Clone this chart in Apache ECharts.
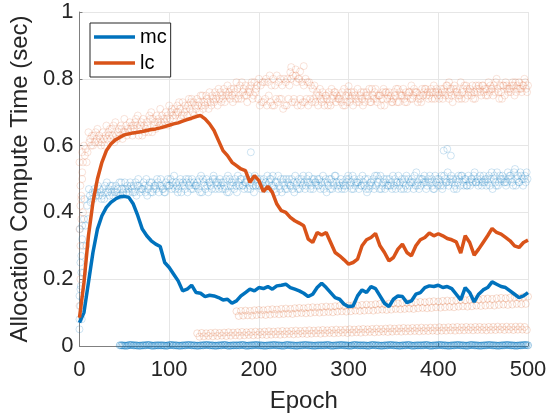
<!DOCTYPE html>
<html><head><meta charset="utf-8">
<script src="https://cdn.jsdelivr.net/npm/echarts@6/dist/echarts.min.js"></script>
<style>html,body{margin:0;padding:0;background:#fff}#c{width:555px;height:419px}</style>
</head><body><div id="c"></div>
<script>
// epochs sampled every 5
const epochs = [0,5,10,15,20,25,30,35,40,45,50,55,60,65,70,75,80,85,90,95,100,105,110,115,120,125,130,135,140,145,150,155,160,165,170,175,180,185,190,195,200,205,210,215,220,225,230,235,240,245,250,255,260,265,270,275,280,285,290,295,300,305,310,315,320,325,330,335,340,345,350,355,360,365,370,375,380,385,390,395,400,405,410,415,420,425,430,435,440,445,450,455,460,465,470,475,480,485,490,495,500];
const xTicks = [0,100,200,300,400,500];
const yTicks = [0,0.2,0.4,0.6,0.8,1];

// smoothed lines
const mcLine = [0.07,0.10,0.19,0.28,0.35,0.39,0.415,0.43,0.44,0.447, 0.448,0.445,0.425,0.39,0.35,0.33,0.315,0.305,0.298,0.25, 0.235,0.215,0.195,0.165,0.17,0.182,0.16,0.158,0.148,0.152, 0.15,0.145,0.138,0.14,0.128,0.135,0.15,0.16,0.17,0.165, 0.175,0.172,0.178,0.17,0.18,0.182,0.185,0.175,0.17,0.165, 0.158,0.148,0.155,0.175,0.188,0.175,0.16,0.145,0.14,0.125, 0.118,0.12,0.15,0.168,0.16,0.178,0.172,0.15,0.128,0.118, 0.14,0.15,0.148,0.13,0.135,0.155,0.16,0.175,0.18,0.178, 0.182,0.175,0.178,0.172,0.155,0.138,0.175,0.16,0.132,0.155, 0.168,0.175,0.192,0.185,0.178,0.175,0.165,0.155,0.145,0.15, 0.16];
const lcLine = [0.085,0.19,0.33,0.43,0.50,0.55,0.585,0.605,0.617,0.625, 0.632,0.635,0.638,0.64,0.642,0.645,0.648,0.65,0.653,0.657, 0.661,0.665,0.668,0.673,0.678,0.682,0.687,0.69,0.68,0.665, 0.645,0.615,0.585,0.57,0.55,0.54,0.53,0.525,0.49,0.51, 0.495,0.462,0.478,0.46,0.425,0.405,0.40,0.385,0.375,0.368, 0.36,0.32,0.31,0.34,0.332,0.34,0.31,0.28,0.27,0.258, 0.245,0.25,0.26,0.30,0.318,0.325,0.337,0.30,0.28,0.255, 0.265,0.29,0.305,0.28,0.27,0.30,0.318,0.325,0.338,0.33, 0.336,0.33,0.322,0.318,0.312,0.278,0.33,0.31,0.272,0.29, 0.31,0.33,0.352,0.34,0.335,0.325,0.315,0.30,0.295,0.31, 0.317];

// lc raw samples (upper cloud), five strands
const lcCloud1 = [.55,.60,.64,.60,.65,.61,.66,.62,.67,.63, .68,.64,.66,.69,.63,.67,.70,.65,.71,.67, .72,.68,.70,.73,.69,.74,.71,.75,.72,.76, .73,.77,.74,.78,.75,.79,.74,.78,.76,.79, .80,.73,.79,.72,.81,.74,.79,.82,.73,.80, .78,.72,.77,.76,.73,.75,.72,.76,.74,.77, .75,.72,.77,.74,.76,.73,.77,.75,.72,.76, .74,.77,.75,.73,.78,.76,.74,.77,.75,.78, .76,.74,.78,.75,.77,.79,.74,.77,.76,.78, .78,.75,.77,.80,.76,.79,.77,.75,.79,.78, .78];
const lcCloud2 = [.48,.57,.61,.63,.61,.64,.62,.65,.63,.66, .64,.67,.65,.63,.68,.66,.64,.69,.67,.70, .68,.71,.73,.69,.72,.70,.74,.72,.75,.73, .76,.74,.77,.75,.73,.77,.79,.75,.78,.76, .72,.79,.75,.80,.73,.78,.72,.80,.81,.74, .73,.79,.74,.72,.76,.74,.77,.73,.75,.72, .73,.76,.74,.72,.75,.77,.74,.72,.76,.74, .76,.73,.77,.75,.74,.76,.73,.77,.76,.74, .74,.77,.75,.73,.76,.74,.78,.76,.74,.77, .76,.79,.75,.77,.74,.78,.76,.79,.77,.80, .76];
const lcCloud3 = [.44,.59,.62,.61,.63,.62,.64,.63,.62,.65, .66,.65,.67,.65,.66,.64,.68,.67,.69,.68, .70,.69,.71,.70,.74,.73,.72,.75,.74,.72, .74,.76,.73,.76,.77,.74,.76,.73,.79,.77, .78,.74,.81,.72,.79,.71,.80,.73,.79,.72, .80,.74,.78,.75,.74,.72,.74,.75,.73,.75, .74,.75,.73,.76,.74,.75,.73,.74,.76,.75, .75,.76,.74,.76,.75,.73,.77,.75,.77,.76, .75,.76,.74,.77,.75,.76,.77,.75,.78,.76, .77,.76,.78,.76,.78,.77,.78,.76,.77,.79, .77];
const lcCloud4 = [.52,.55,.60,.64,.62,.60,.63,.66,.64,.62, .63,.66,.68,.66,.64,.69,.66,.68,.66,.69, .71,.70,.68,.72,.71,.69,.73,.71,.73,.75, .75,.73,.76,.74,.76,.75,.77,.76,.74,.78, .73,.80,.73,.78,.74,.80,.74,.81,.72,.79, .74,.78,.73,.77,.72,.76,.75,.74,.76,.73, .76,.74,.75,.73,.77,.74,.75,.76,.74,.73, .77,.75,.73,.76,.77,.74,.75,.76,.74,.77, .77,.75,.76,.78,.74,.77,.75,.78,.77,.75, .75,.78,.76,.74,.78,.76,.79,.78,.76,.77, .79];
const lcCloud5 = [.40,.58,.63,.62,.60,.63,.65,.61,.65,.64, .65,.63,.66,.67,.65,.68,.67,.66,.68,.66, .69,.72,.69,.71,.73,.72,.70,.73,.71,.74, .72,.75,.75,.77,.74,.78,.75,.77,.75,.74, .79,.72,.78,.74,.80,.72,.78,.74,.80,.73, .79,.73,.75,.74,.75,.73,.76,.74,.72,.76, .75,.73,.76,.75,.73,.76,.75,.77,.75,.73, .73,.75,.76,.74,.76,.75,.76,.74,.76,.75, .76,.78,.77,.76,.75,.78,.76,.74,.76,.78, .77,.77,.79,.78,.75,.77,.78,.77,.78,.76, .80];
const lcExtra = [[0,0.12],[1,0.2],[1,0.3],[2,0.38],[2,0.45],[3,0.5],[1,0.42],[4,0.55],[0,0.35],[3,0.58],[236,0.835],[241,0.828],[246,0.822],[250,0.838],[300,0.778],[412,0.79]];
// lc lower bands
const lcBand1Start = 175;
const lcBand1Up = [0.104,0.105,0.106,0.105,0.107,0.108,0.107,0.109,0.110,0.109,0.111,0.112,0.111,0.113,0.114,0.113,0.115,0.116,0.115,0.117,0.118,0.117,0.119,0.120,0.119,0.121,0.122,0.121,0.123,0.124,0.123,0.125,0.126,0.125,0.127,0.128,0.127,0.129,0.130,0.129,0.131,0.132,0.131,0.133,0.134,0.133,0.135,0.136,0.135,0.137,0.138,0.137,0.139,0.140,0.139,0.141,0.142,0.141,0.143,0.144,0.143,0.145,0.146,0.145,0.147,0.148];
const lcBand1Lo = [0.090,0.091,0.092,0.091,0.093,0.094,0.093,0.094,0.096,0.095,0.096,0.097,0.096,0.098,0.099,0.098,0.099,0.101,0.100,0.101,0.102,0.101,0.103,0.104,0.103,0.104,0.106,0.105,0.106,0.107,0.106,0.108,0.109,0.108,0.109,0.111,0.110,0.111,0.112,0.111,0.113,0.114,0.113,0.114,0.116,0.115,0.116,0.117,0.116,0.118,0.119,0.118,0.119,0.121,0.120,0.121,0.122,0.121,0.123,0.124,0.123,0.124,0.126,0.125,0.126,0.128];
const lcBand2Start = 130;
const lcBand2Up = [0.038,0.039,0.038,0.039,0.040,0.039,0.040,0.041,0.040,0.041,0.042,0.041,0.042,0.043,0.042,0.043,0.044,0.043,0.044,0.045,0.044,0.045,0.046,0.045,0.046,0.047,0.046,0.047,0.048,0.047,0.048,0.049,0.048,0.049,0.050,0.049,0.050,0.051,0.050,0.051,0.052,0.051,0.052,0.053,0.052,0.053,0.054,0.053,0.054,0.054,0.055,0.054,0.055,0.055,0.056,0.055,0.056,0.056,0.057,0.056,0.057,0.056,0.057,0.057,0.056,0.057,0.057,0.058,0.057,0.058,0.057,0.058,0.058,0.057,0.058];
const lcBand2Lo = [0.028,0.029,0.030,0.029,0.030,0.031,0.030,0.031,0.032,0.031,0.032,0.033,0.032,0.033,0.034,0.033,0.034,0.035,0.034,0.035,0.036,0.035,0.036,0.037,0.036,0.037,0.038,0.037,0.038,0.039,0.038,0.039,0.040,0.039,0.040,0.041,0.040,0.041,0.042,0.041,0.042,0.043,0.042,0.043,0.044,0.043,0.044,0.044,0.045,0.044,0.045,0.045,0.046,0.045,0.046,0.046,0.047,0.046,0.047,0.047,0.048,0.047,0.048,0.048,0.047,0.048,0.048,0.049,0.048,0.049,0.048,0.049,0.049,0.048,0.049];

// mc raw samples, five strands
const mcCloud1 = [.35,.44,.47,.44,.48,.45,.49,.46,.48,.45, .49,.46,.48,.50,.47,.45,.49,.47,.50,.46, .48,.51,.47,.49,.46,.50,.48,.51,.47,.49, .50,.47,.49,.51,.48,.46,.50,.49,.47,.51, .48,.50,.47,.51,.49,.46,.50,.48,.51,.47, .49,.51,.47,.50,.48,.46,.50,.51,.48,.47, .50,.47,.49,.51,.46,.49,.48,.51,.47,.50, .48,.51,.49,.47,.50,.52,.48,.49,.51,.47, .50,.48,.52,.49,.47,.51,.50,.48,.52,.49, .51,.49,.47,.52,.50,.48,.51,.53,.49,.50, .51];
const mcCloud2 = [.18,.36,.45,.47,.45,.47,.46,.48,.46,.49, .47,.49,.46,.48,.49,.47,.46,.50,.48,.49, .50,.47,.49,.48,.50,.47,.49,.46,.50,.48, .47,.50,.48,.46,.49,.51,.48,.50,.49,.48, .50,.47,.49,.48,.51,.49,.47,.50,.48,.49, .47,.49,.50,.48,.51,.49,.47,.49,.50,.48, .48,.50,.47,.49,.50,.48,.51,.47,.49,.48, .50,.48,.47,.50,.49,.48,.50,.47,.49,.51, .49,.51,.48,.50,.49,.51,.48,.50,.49,.51, .49,.51,.50,.48,.51,.49,.50,.48,.52,.51, .50];
const mcCloud3 = [.08,.30,.43,.46,.47,.44,.47,.45,.47,.47, .46,.48,.49,.46,.48,.48,.47,.49,.47,.48, .47,.49,.50,.47,.48,.49,.47,.50,.48,.47, .49,.48,.47,.50,.47,.49,.48,.47,.50,.49, .47,.49,.50,.47,.48,.50,.49,.47,.49,.50, .48,.47,.49,.50,.47,.48,.49,.48,.47,.50, .49,.48,.50,.48,.47,.50,.49,.48,.50,.49, .47,.49,.50,.48,.47,.49,.50,.48,.50,.49, .48,.50,.49,.47,.51,.49,.48,.50,.49,.50, .50,.48,.51,.49,.50,.52,.49,.50,.51,.49, .49];
const mcCloud4 = [.14,.42,.44,.45,.46,.48,.45,.47,.45,.46, .48,.47,.45,.47,.46,.49,.48,.46,.47,.50, .49,.48,.46,.50,.49,.48,.50,.49,.46,.50, .48,.49,.50,.48,.50,.48,.47,.51,.48,.50, .49,.48,.50,.49,.47,.48,.50,.49,.47,.48, .50,.48,.49,.47,.49,.50,.48,.47,.49,.49, .47,.49,.48,.50,.48,.47,.50,.49,.48,.47, .49,.47,.48,.49,.51,.47,.49,.50,.48,.50, .51,.49,.50,.48,.50,.48,.51,.49,.50,.48, .48,.50,.49,.51,.49,.50,.48,.51,.50,.52, .50];
const mcCloud5 = [.22,.38,.46,.46,.44,.46,.48,.46,.49,.47, .47,.46,.48,.47,.50,.46,.48,.48,.46,.48, .48,.46,.48,.49,.47,.48,.46,.48,.49,.51, .49,.47,.46,.49,.48,.50,.49,.48,.46,.48, .48,.51,.48,.46,.50,.47,.48,.46,.50,.51, .49,.50,.48,.49,.50,.47,.51,.49,.48,.51, .51,.49,.48,.47,.49,.51,.47,.50,.48,.51, .49,.50,.51,.49,.48,.50,.51,.49,.47,.48, .47,.49,.51,.50,.48,.50,.49,.51,.48,.49, .50,.52,.48,.50,.49,.51,.52,.49,.48,.50, .51];
const mcExtra = [[0,0.05],[0,0.08],[1,0.12],[1,0.17],[2,0.22],[2,0.27],[3,0.32],[3,0.36],[4,0.30],[0,0.15],[1,0.25],[5,0.38],[191,0.58],[406,0.585],[410,0.59],[414,0.57]];
// mc zero band
const mcZeroStart = 45;
const mcZero = [0.002,0.001,0.003,0.002,0.001,0.002,0.003,0.001,0.002,0.002,0.001,0.003,0.002,0.001,0.002,0.003,0.002,0.001,0.002,0.003,0.002,0.001,0.002,0.003,0.001,0.002,0.002,0.003,0.001,0.002,0.003,0.002,0.001,0.002,0.003,0.002,0.001,0.003,0.002,0.001,0.002,0.003,0.002,0.001,0.002,0.002,0.003,0.001,0.002,0.003,0.002,0.001,0.003,0.002,0.002,0.001,0.003,0.002,0.001,0.002,0.003,0.002,0.001,0.002,0.003,0.001,0.002,0.002,0.003,0.001,0.002,0.003,0.002,0.001,0.002,0.003,0.002,0.001,0.003,0.002,0.001,0.002,0.003,0.002,0.001,0.002,0.003,0.002,0.001,0.002,0.003,0.002];

const BLUE = '#0072BD', ORANGE = '#D95319';
function strand(vals, startEpoch, off) {
  const s = epochs.indexOf(startEpoch);
  const out = [];
  vals.forEach((v, i) => { const e = epochs[s + i]; if (e !== undefined && e + off <= 500) out.push([e + off, v]); });
  return out;
}
function cloud(name, data, rgba, z) {
  return { name: name, type: 'scatter', data: data, symbol: 'circle', symbolSize: 7, silent: true, z: z,
    itemStyle: { color: 'rgba(0,0,0,0)', borderColor: rgba, borderWidth: 1 } };
}
const lcRaw = [].concat(strand(lcCloud1,0,0), strand(lcCloud2,0,1), strand(lcCloud3,0,2), strand(lcCloud4,0,3), strand(lcCloud5,0,4), lcExtra);
const lcLow = [].concat(strand(lcBand1Up,lcBand1Start,0), strand(lcBand1Lo,lcBand1Start,2.5), strand(lcBand2Up,lcBand2Start,1.2), strand(lcBand2Lo,lcBand2Start,3.7));
const mcRaw = [].concat(strand(mcCloud1,0,0.5), strand(mcCloud2,0,1.5), strand(mcCloud3,0,2.5), strand(mcCloud4,0,3.5), strand(mcCloud5,0,4.5), mcExtra);
const mcLow = [].concat(strand(mcZero,mcZeroStart,0), strand(mcZero,mcZeroStart,1.7), strand(mcZero,mcZeroStart,3.3));

const chart = echarts.init(document.getElementById('c'), null, { renderer: 'canvas' });
const FONT = 'Liberation Sans, Arial, Helvetica, sans-serif';
chart.setOption({
  animation: false,
  backgroundColor: '#fff',
  textStyle: { fontFamily: FONT },
  grid: { left: 78, right: 27, top: 12, bottom: 73, containLabel: false },
  legend: {
    data: ['mc', 'lc'], orient: 'vertical', left: 90, top: 23,
    icon: 'rect', itemWidth: 41, itemHeight: 3.5, itemGap: 6,
    padding: [4, 4, 4, 4],
    borderColor: '#262626', borderWidth: 1, backgroundColor: '#fff',
    textStyle: { fontSize: 20, color: '#000', fontFamily: FONT }
  },
  xAxis: {
    type: 'value', min: xTicks[0], max: xTicks[xTicks.length - 1], interval: 100,
    name: 'Epoch', nameLocation: 'middle', nameGap: 43,
    nameTextStyle: { fontSize: 24, color: '#262626', fontFamily: FONT },
    axisLine: { show: true, onZero: false, lineStyle: { color: '#808080', width: 1 } },
    axisTick: { show: true, inside: true, length: 3, lineStyle: { color: '#808080' } },
    axisLabel: { fontSize: 22, color: '#262626', margin: 13, fontFamily: FONT },
    splitLine: { show: true, lineStyle: { color: '#e6e6e6', width: 1 } }
  },
  yAxis: {
    type: 'value', min: yTicks[0], max: yTicks[yTicks.length - 1], interval: 0.2,
    name: 'Allocation Compute Time (sec)', nameLocation: 'middle', nameGap: 42,
    nameTextStyle: { fontSize: 24, color: '#262626', fontFamily: FONT },
    axisLine: { show: true, lineStyle: { color: '#808080', width: 1 } },
    axisTick: { show: true, inside: true, length: 3, lineStyle: { color: '#808080' } },
    axisLabel: { fontSize: 22, color: '#262626', margin: 6, fontFamily: FONT },
    splitLine: { show: true, lineStyle: { color: '#e6e6e6', width: 1 } }
  },
  series: [
    cloud('mc samples', mcRaw, 'rgba(0,114,189,0.24)', 1),
    cloud('mc zero', mcLow, 'rgba(0,114,189,0.5)', 1),
    cloud('lc samples', lcRaw, 'rgba(217,83,25,0.2)', 1),
    cloud('lc low', lcLow, 'rgba(217,83,25,0.25)', 1),
    { name: 'mc', type: 'line', data: epochs.map((e, i) => [e, mcLine[i]]), symbol: 'none', z: 5,
      lineStyle: { color: BLUE, width: 3.5 }, itemStyle: { color: BLUE } },
    { name: 'lc', type: 'line', data: epochs.map((e, i) => [e, lcLine[i]]), symbol: 'none', z: 5,
      lineStyle: { color: ORANGE, width: 3.5 }, itemStyle: { color: ORANGE } }
  ]
});
</script></body></html>
